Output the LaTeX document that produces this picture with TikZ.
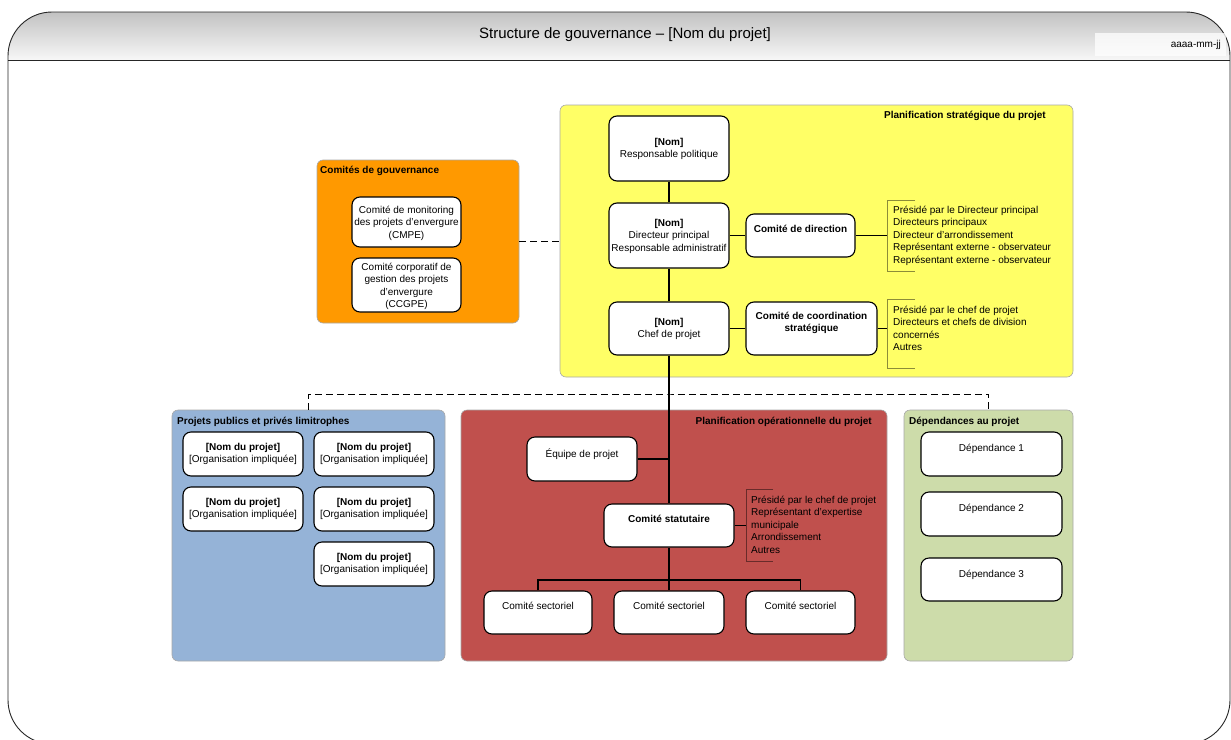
\documentclass[tikz,border=0pt]{standalone}
\usepackage{fontspec}
\setmainfont{Liberation Sans}
\usetikzlibrary{calc}
\definecolor{orgfill}{HTML}{FF9900}
\definecolor{strfill}{HTML}{FFFF66}
\definecolor{limfill}{HTML}{95B3D7}
\definecolor{opfill}{HTML}{C0504D}
\definecolor{depfill}{HTML}{CDDCAA}
\definecolor{grpline}{HTML}{A8A8A8}
\definecolor{hdrtop}{HTML}{C2C2C2}
\definecolor{hdrbot}{HTML}{F7F7F7}

% box node given by its corners: style, name, x1, y1, x2, y2
\newcommand\placebox[6]{\node[#1, minimum width={(#5-#3)*1pt}, minimum height={(#6-#4)*1pt}] (#2) at ({(#3+#5)/2},{(#4+#6)/2}) {};}
% member list bracket: x, top y, bottom y, tick end x
\newcommand\listbracket[4]{\draw[brk] (#4,#2) -- (#1,#2) -- (#1,#3) -- (#4,#3);}

\begin{document}
\begin{tikzpicture}[x=1pt,y=-1pt,
  grp/.style={draw=grpline, line width=0.6pt, rounded corners=6pt, inner sep=0},
  wbox/.style={draw=black, fill=white, line width=1.1pt, rounded corners=8pt, inner sep=0},
  ctext/.style={inner sep=0, align=center, anchor=north, font=\fontsize{10}{12.4}\selectfont},
  ltext/.style={inner sep=0, align=left, anchor=north west, font=\fontsize{10}{12.4}\selectfont},
  gtitle/.style={inner sep=0, font=\bfseries\fontsize{10}{12}\selectfont},
  link/.style={draw=black, line width=1.1pt},
  dlink/.style={draw=black, line width=1pt, dash pattern=on 7pt off 4pt},
  brk/.style={draw=black, draw opacity=0.45, line width=0.8pt}]

\clip (0,0) rectangle (1231,739);

% page frame with shaded header band
\begin{scope}
  \clip[rounded corners=44pt] (8,400) -- (8,12) -- (1230,12) -- (1230,744) -- (8,744) -- cycle;
  \shade[top color=hdrtop, bottom color=hdrbot] (8,12) rectangle (1230,60);
\end{scope}
\draw[line width=0.9pt, draw=black!85, rounded corners=44pt] (8,400) -- (8,12) -- (1230,12) -- (1230,744) -- (8,744) -- cycle;
\draw[line width=0.9pt, draw=black!85] (8,60) -- (1230,60);
\node[font=\fontsize{15}{18}\selectfont, inner sep=0] (title) at (625,35) {Structure de gouvernance – [Nom du projet]};
\placebox{fill=white, fill opacity=0.75, inner sep=0}{datebox}{1095}{33}{1226}{56}
\node[anchor=east, inner sep=0, font=\fontsize{10}{11}\selectfont] (date) at (1221,45) {aaaa-mm-jj};

% ---------------- governance committees
\placebox{grp, fill=orgfill}{gov}{317}{160}{519}{323}
\node[gtitle, anchor=north west] (govT) at (320,166) {Comités de gouvernance};
\placebox{wbox}{cmpe}{352}{197}{461}{247}
\node[ctext] (cmpeT) at (406.5,206) {Comité de monitoring\\des projets d’envergure\\(CMPE)};
\placebox{wbox}{ccgpe}{352}{258}{461}{312}
\node[ctext] (ccgpeT) at (406.5,263) {Comité corporatif de\\gestion des projets\\d’envergure\\(CCGPE)};

% ---------------- strategic planning
\placebox{grp, fill=strfill}{strat}{560}{105}{1073}{377}
\node[gtitle, anchor=north east] (stratT) at (1046,111) {Planification stratégique du projet};
\placebox{wbox}{rp}{609}{116}{729}{181}
\node[ctext] (rpT) at (669,138) {\textbf{[Nom]}\\Responsable politique};
\placebox{wbox}{dp}{609}{203}{729}{268}
\node[ctext] (dpT) at (669,219) {\textbf{[Nom]}\\Directeur principal\\Responsable administratif};
\placebox{wbox}{cp}{609}{302}{729}{355}
\node[ctext] (cpT) at (669,318) {\textbf{[Nom]}\\Chef de projet};
\placebox{wbox}{cd}{746}{214}{855}{257}
\node[ctext, font=\bfseries\fontsize{10}{12.4}\selectfont] (cdT) at (800.5,225) {Comité de direction};
\placebox{wbox}{ccs}{746}{302}{877}{355}
\node[ctext, font=\bfseries\fontsize{10}{12.4}\selectfont] (ccsT) at (811.5,312) {Comité de coordination\\stratégique};

\listbracket{887}{200}{271}{915}
\coordinate (cdB) at (887,235.5);
\node[ltext] (cdL) at (893,206) {Présidé par le Directeur principal\\Directeurs principaux\\Directeur d’arrondissement\\Représentant externe - observateur\\Représentant externe - observateur};
\listbracket{887}{299}{368}{915}
\coordinate (ccsB) at (887,328.5);
\node[ltext] (ccsL) at (893,306) {Présidé par le chef de projet\\Directeurs et chefs de division\\concernés\\Autres};

% ---------------- neighbouring projects
\placebox{grp, fill=limfill}{lim}{172}{410}{445}{661}
\node[gtitle, anchor=north west] (limT) at (177,417) {Projets publics et privés limitrophes};
\placebox{wbox}{p1}{183}{432}{303}{476}
\node[ctext] (p1T) at (243,443) {\textbf{[Nom du projet]}\\{}[Organisation impliquée]};
\placebox{wbox}{p2}{314}{432}{434}{476}
\node[ctext] (p2T) at (374,443) {\textbf{[Nom du projet]}\\{}[Organisation impliquée]};
\placebox{wbox}{p3}{183}{487}{303}{531}
\node[ctext] (p3T) at (243,498) {\textbf{[Nom du projet]}\\{}[Organisation impliquée]};
\placebox{wbox}{p4}{314}{487}{434}{531}
\node[ctext] (p4T) at (374,498) {\textbf{[Nom du projet]}\\{}[Organisation impliquée]};
\placebox{wbox}{p5}{314}{542}{434}{586}
\node[ctext] (p5T) at (374,553) {\textbf{[Nom du projet]}\\{}[Organisation impliquée]};

% ---------------- operational planning
\placebox{grp, fill=opfill}{oper}{461}{410}{887}{661}
\node[gtitle, anchor=north east] (operT) at (872,417) {Planification opérationnelle du projet};
\placebox{wbox}{eq}{527}{437}{637}{481}
\node[ctext] (eqT) at (582,449) {Équipe de projet};
\placebox{wbox}{cst}{604}{504}{734}{547}
\node[ctext, font=\bfseries\fontsize{10}{12.4}\selectfont] (cstT) at (669,515) {Comité statutaire};
\listbracket{746}{489}{561}{773}
\coordinate (cstB) at (746,525.5);
\node[ltext] (cstL) at (751,496) {Présidé par le chef de projet\\Représentant d’expertise\\municipale\\Arrondissement\\Autres};
\placebox{wbox}{s1}{484}{591}{592}{634}
\node[ctext] (s1T) at (538,602) {Comité sectoriel};
\placebox{wbox}{s2}{614}{591}{724}{634}
\node[ctext] (s2T) at (669,602) {Comité sectoriel};
\placebox{wbox}{s3}{746}{591}{855}{634}
\node[ctext] (s3T) at (800.5,602) {Comité sectoriel};

% ---------------- dependencies
\placebox{grp, fill=depfill}{dep}{904}{410}{1073}{661}
\node[gtitle, anchor=north west] (depT) at (909,417) {Dépendances au projet};
\placebox{wbox}{d1}{921}{432}{1062}{476}
\node[ctext] (d1T) at (991.5,444) {Dépendance 1};
\placebox{wbox}{d2}{921}{492}{1062}{536}
\node[ctext] (d2T) at (991.5,504) {Dépendance 2};
\placebox{wbox}{d3}{921}{558}{1062}{601}
\node[ctext] (d3T) at (991.5,570) {Dépendance 3};

% ---------------- connectors
\coordinate (trunk) at (669,459);
\coordinate (bar) at (669,394);
\coordinate (split) at (669,580);
\draw[link] (rp.south) -- (dp.north);
\draw[link] (dp.south) -- (cp.north);
\draw[link] (dp.east |- cd.west) -- (cd.west);
\draw[link] (cp.east |- ccs.west) -- (ccs.west);
\draw[link] (cd.east) -- (cdB);
\draw[link] (ccs.east) -- (ccsB);
\draw[link] (cp.south) -- (cst.north);
\draw[link] (eq.east |- trunk) -- (trunk);
\draw[link] (cst.east) -- (cstB);
\draw[link] (cst.south) -- (split);
\draw[link] (s1.north) |- (split) -| (s3.north);
\draw[link] (split) -- (s2.north);
\draw[dlink] (gov.east |- strat.west) -- (strat.west);
\draw[dlink] (lim.north) |- (bar) -| (dep.north);

\end{tikzpicture}
\end{document}
